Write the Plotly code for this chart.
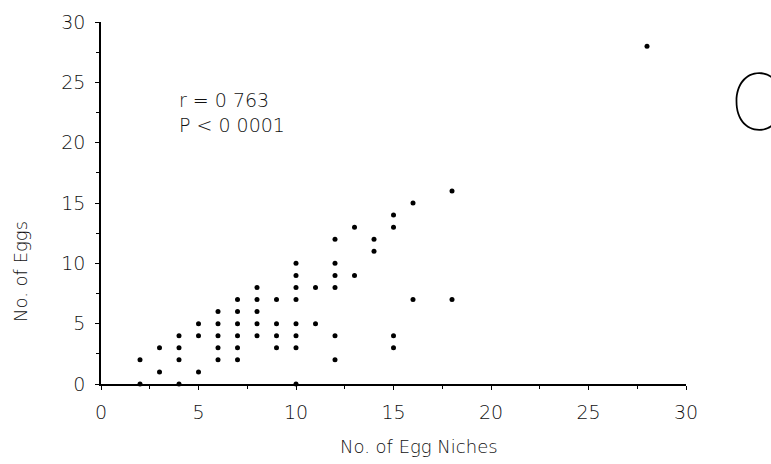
import plotly.graph_objects as go

niches = [2, 2, 3, 3, 4, 4, 4, 4, 5, 5, 5,
          6, 6, 6, 6, 6,
          7, 7, 7, 7, 7, 7,
          8, 8, 8, 8, 8,
          9, 9, 9, 9,
          10, 10, 10, 10, 10, 10, 10, 10,
          11, 11,
          12, 12, 12, 12, 12, 12,
          13, 13, 14, 14,
          15, 15, 15, 15,
          16, 16, 18, 18, 28]
eggs = [2, 0, 1, 3, 4, 3, 2, 0, 5, 4, 1,
        6, 5, 4, 3, 2,
        7, 6, 5, 4, 3, 2,
        8, 7, 6, 5, 4,
        7, 5, 4, 3,
        10, 9, 8, 7, 5, 4, 3, 0,
        8, 5,
        12, 10, 9, 8, 4, 2,
        13, 9, 12, 11,
        14, 13, 4, 3,
        15, 7, 16, 7, 28]

tick_vals = [0, 5, 10, 15, 20, 25, 30]
tick_text = ["0", "5", "10", "15", "20", "25", "30"]

FONT = "DejaVu Sans"
TXT = "#111111"
W = 200
fig = go.Figure()
fig.add_trace(go.Scatter(x=niches, y=eggs, mode="markers",
                         marker=dict(color="black", size=5),
                         cliponaxis=False, showlegend=False))

axis_common = dict(range=[0, 30], tickvals=tick_vals, ticktext=tick_text,
                   showgrid=False, zeroline=False, showline=True,
                   linecolor="black", linewidth=1.5, ticks="outside",
                   ticklen=4, tickwidth=1.2, tickcolor="black",
                   tickfont=dict(family=FONT, size=19, color=TXT, weight=W),
                   minor=dict(dtick=2.5, tick0=0, ticks="outside", ticklen=3,
                              tickwidth=1, tickcolor="black"))

fig.update_xaxes(**axis_common, ticklabelstandoff=6)
fig.update_yaxes(**axis_common, ticklabelstandoff=6)

fig.update_layout(
    width=771, height=464,
    margin=dict(l=101, r=85, t=22, b=80),
    plot_bgcolor="white", paper_bgcolor="white",
    annotations=[
        dict(text="r = 0 763", xref="paper", yref="paper", x=(177-101)/585, y=(384-100)/362,
             xanchor="left", yanchor="middle", showarrow=False,
             font=dict(family=FONT, size=19, color=TXT, weight=W)),
        dict(text="P < 0 0001", xref="paper", yref="paper", x=(177-101)/585, y=(384-125)/362,
             xanchor="left", yanchor="middle", showarrow=False,
             font=dict(family=FONT, size=19, color=TXT, weight=W)),
        dict(text="No. of Egg Niches", xref="paper", yref="paper", x=(419-101)/585, y=(384-446)/362,
             xanchor="center", yanchor="middle", showarrow=False,
             font=dict(family=FONT, size=18, color=TXT, weight=W)),
        dict(text="No. of Eggs", xref="paper", yref="paper", x=(20-101)/585, y=(384-272)/362,
             xanchor="center", yanchor="middle", showarrow=False, textangle=-90,
             font=dict(family=FONT, size=18, color=TXT, weight=W)),
        dict(text="C", xref="paper", yref="paper", x=(728-101)/585, y=(384-101)/362,
             xanchor="left", yanchor="middle", showarrow=False,
             font=dict(family="Inter", size=78, color="black", weight=100)),
    ],
)

fig.write_html("out.html")
